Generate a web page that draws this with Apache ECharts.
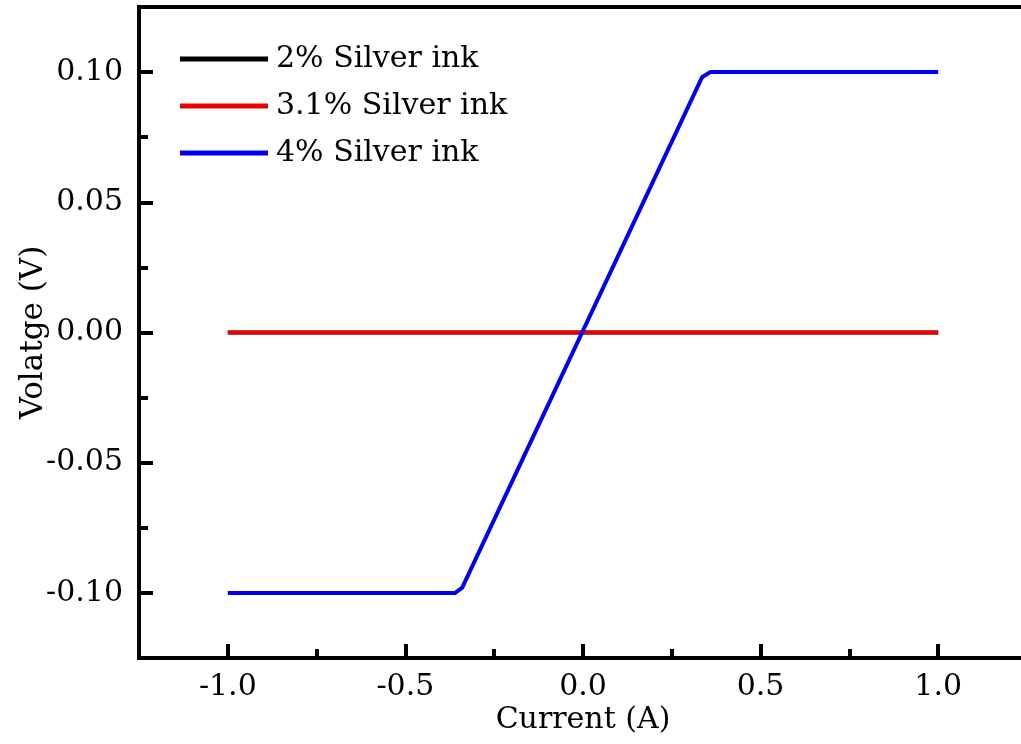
<!DOCTYPE html>
<html>
<head>
<meta charset="utf-8">
<script src="https://cdn.jsdelivr.net/npm/echarts@6/dist/echarts.min.js"></script>
<style>
  html, body { margin: 0; padding: 0; background: #fff; }
  #chart { width: 1021px; height: 744px; }
</style>
</head>
<body>
<div id="chart"></div>
<script>
// series data: [current (A), voltage (V)]
const ink2 = [[-1, 0], [1, 0]];
const ink31 = [[-1, 0], [1, 0]];
const ink4 = [[-1, -0.1], [-0.36, -0.1], [-0.34, -0.098], [0.335, 0.098], [0.358, 0.1], [1, 0.1]];

const seriesNames = ["2% Silver ink", "3.1% Silver ink", "4% Silver ink"];
const seriesColors = ["#000000", "#ee0000", "#0000ee"];

// tick values
const xMajor = [-1.0, -0.5, 0.0, 0.5, 1.0];
const xMinor = [-0.75, -0.25, 0.25, 0.75];
const yMajor = [-0.10, -0.05, 0.00, 0.05, 0.10];
const yMinor = [-0.075, -0.025, 0.025, 0.075];

const font = "DejaVu Serif";

const chart = echarts.init(document.getElementById("chart"));

const baseX = {
  type: "value",
  min: -1.25,
  max: 1.25,
  splitLine: { show: false },
};
const baseY = {
  type: "value",
  min: -0.125,
  max: 0.125,
  splitLine: { show: false },
};

chart.setOption({
  animation: false,
  grid: {
    left: 139,
    top: 7,
    width: 888,
    height: 651,
    outerBoundsMode: "none",
    show: true,
    borderColor: "#000",
    borderWidth: 4,
  },
  legend: {
    left: 180,
    top: 44,
    padding: 0,
    orient: "vertical",
    icon: "rect",
    itemWidth: 88,
    itemHeight: 5,
    itemGap: 17,
    data: seriesNames,
    textStyle: { fontFamily: font, fontSize: 30, lineHeight: 30, color: "#000", padding: [0, 0, 0, 3] },
  },
  xAxis: [
    Object.assign({}, baseX, {
      name: "Current (A)",
      nameLocation: "middle",
      nameGap: 47,
      nameMoveOverlap: false,
      nameTextStyle: { fontFamily: font, fontSize: 30, color: "#000" },
      axisLine: { onZero: false, lineStyle: { color: "#000", width: 4 } },
      axisTick: { inside: true, length: 14, customValues: xMajor, lineStyle: { color: "#000", width: 4 } },
      axisLabel: {
        customValues: xMajor,
        margin: 14,
        fontFamily: font,
        fontSize: 30,
        color: "#000",
        formatter: (v) => v.toFixed(1),
      },
    }),
    Object.assign({}, baseX, {
      position: "bottom",
      axisLine: { show: false, onZero: false },
      axisTick: { inside: true, length: 9, customValues: xMinor, lineStyle: { color: "#000", width: 4 } },
      axisLabel: { show: false },
    }),
  ],
  yAxis: [
    Object.assign({}, baseY, {
      name: "Volatge (V)",
      nameLocation: "middle",
      nameGap: 90,
      nameMoveOverlap: false,
      nameTextStyle: { fontFamily: font, fontSize: 31, color: "#000" },
      axisLine: { onZero: false, lineStyle: { color: "#000", width: 4 } },
      axisTick: { inside: true, length: 14, customValues: yMajor, lineStyle: { color: "#000", width: 4 } },
      axisLabel: {
        customValues: yMajor,
        margin: 16,
        fontFamily: font,
        fontSize: 30,
        color: "#000",
        formatter: (v) => v.toFixed(2),
      },
    }),
    Object.assign({}, baseY, {
      position: "left",
      axisLine: { show: false, onZero: false },
      axisTick: { inside: true, length: 9, customValues: yMinor, lineStyle: { color: "#000", width: 4 } },
      axisLabel: { show: false },
    }),
  ],
  series: [ink2, ink31, ink4].map((d, i) => ({
    name: seriesNames[i],
    type: "line",
    data: d,
    symbol: "none",
    color: seriesColors[i],
    lineStyle: { width: 4, color: seriesColors[i] },
  })),
});
</script>
</body>
</html>
